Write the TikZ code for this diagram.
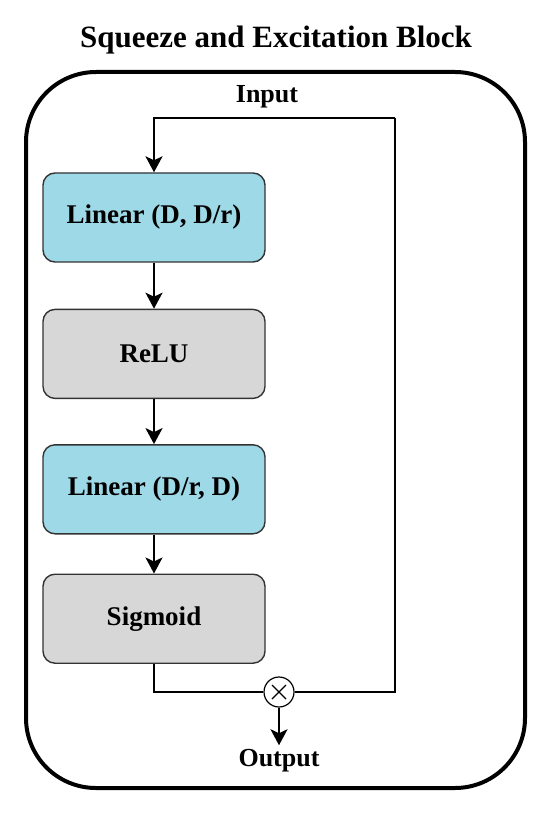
\documentclass[tikz,border=0pt]{standalone}
\usepackage{fontspec}
\setmainfont{Liberation Serif}
\usepackage{tikz}
\usetikzlibrary{shapes,arrows.meta,positioning}
\usepackage{xcolor}
\definecolor{linfill}{HTML}{9ED9E7}
\definecolor{actfill}{HTML}{D7D7D7}
\definecolor{edge}{HTML}{333333}

\begin{document}
\begin{tikzpicture}[x=1pt, y=-1pt,
    block/.style={draw=edge, line width=1.4pt, rectangle, rounded corners=12pt, minimum height=89pt, minimum width=222pt, align=center, font=\fontsize{27}{31}\selectfont\bfseries},
    linear/.style={block, fill=linfill},
    act/.style={block, fill=actfill},
    label/.style={font=\fontsize{26}{30}\selectfont\bfseries},
    wire/.style={draw=black, line width=2.2pt},
    line/.style={wire, -{Stealth[length=16pt, width=17pt, inset=4pt]}},
    multiply/.style={draw=black, line width=1.2pt, circle, minimum size=30pt, inner sep=0pt, fill=white,
        path picture={\draw[line width=1.1pt] (path picture bounding box.center) ++(-7pt,-7pt) -- ++(14pt,14pt)
            (path picture bounding box.center) ++(-7pt,7pt) -- ++(14pt,-14pt);}}
]
    \useasboundingbox (0,0) rectangle (550,818);
    \node [font=\fontsize{31}{36}\selectfont\bfseries, anchor=base] (title) at (276,48) {Squeeze and Excitation Block};
    \draw [line width=4pt, rounded corners=70pt] (26,72) rectangle (525,788);

    \node [label, anchor=base] (inp) at (267,103) {Input};
    \coordinate (tap) at (395,118);

    \node [linear] (lin1) at (154,217.5) {Linear (D, D/r)};
    \node [act, below=46pt of lin1] (relu) {ReLU};
    \node [linear, below=45pt of relu] (lin2) {Linear (D/r, D)};
    \node [act, below=39pt of lin2] (sig) {Sigmoid};

    \node [multiply] (mul) at (279,692) {};
    \node [label, anchor=base] (out) at (279,766) {Output};

    \path [line] (tap) -| (lin1.north);
    \path [wire] (tap) |- (mul.east);
    \path [line] (lin1) -- (relu);
    \path [line] (relu) -- (lin2);
    \path [line] (lin2) -- (sig);
    \path [wire] (sig.south) |- (mul.west);
    \path [line] (mul) -- (out);
\end{tikzpicture}
\end{document}
